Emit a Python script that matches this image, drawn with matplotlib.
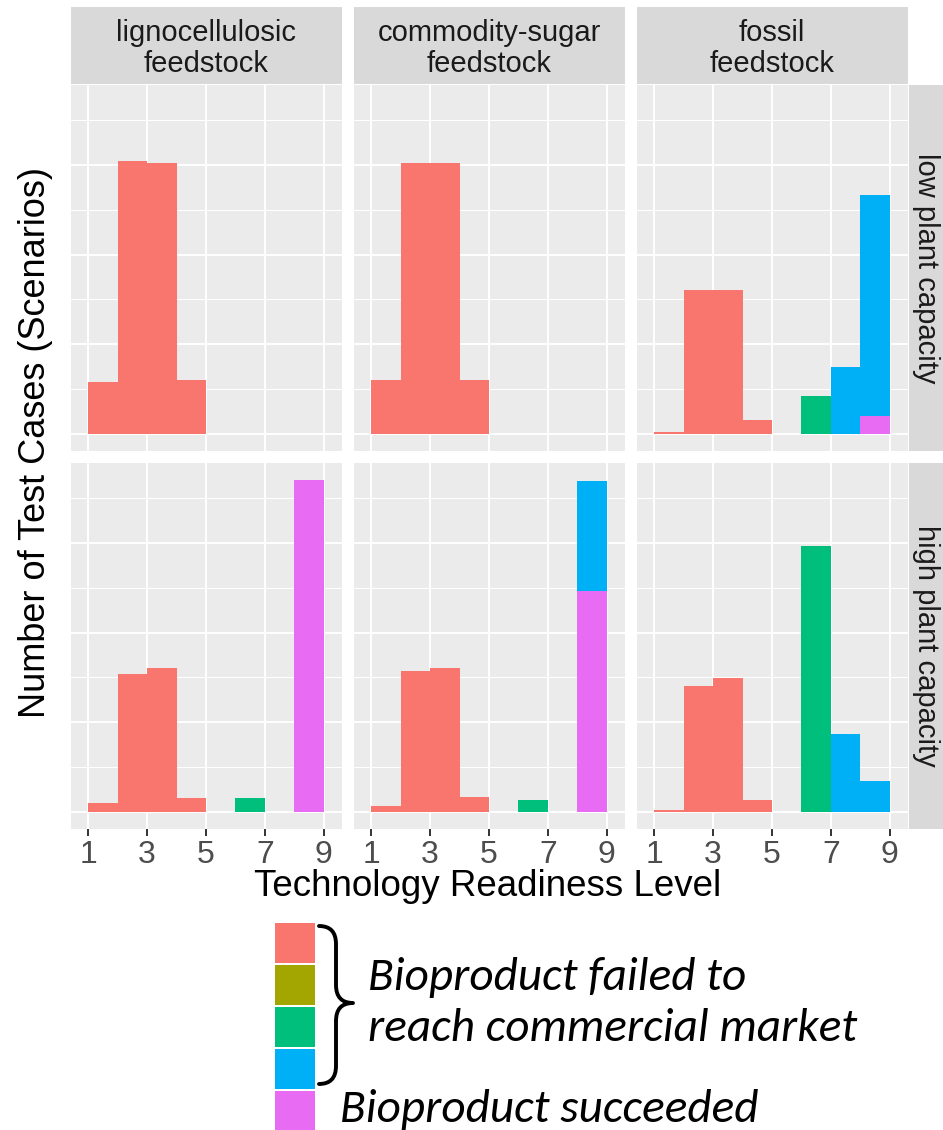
import numpy as np
import matplotlib
matplotlib.use("Agg")
import matplotlib.pyplot as plt
from matplotlib import font_manager
from matplotlib.patches import Rectangle, PathPatch
from matplotlib.path import Path

W, H = 943, 1130

# ---- data (counts of scenarios per TRL bin) ----
feedstocks = ["lignocellulosic\nfeedstock", "commodity-sugar\nfeedstock", "fossil\nfeedstock"]
capacities = ["low plant capacity", "high plant capacity"]
trl_edges = np.arange(1, 10)          # bins [1,2), [2,3), ..., [8,9]
trl_ticks = [1, 3, 5, 7, 9]
outcome_colors = ["#F8766D", "#A3A500", "#00BF7D", "#00B0F6", "#E76BF3"]

zero = [0, 0, 0, 0, 0, 0, 0, 0]

# low plant capacity
ligno_low_red = [58, 304, 302, 60, 0, 0, 0, 0]
sugar_low_red = [60, 302, 302, 60, 0, 0, 0, 0]
fossil_low_red = [3, 160, 161, 16, 0, 0, 0, 0]
fossil_low_green = [0, 0, 0, 0, 0, 43, 0, 0]
fossil_low_blue = [0, 0, 0, 0, 0, 0, 75, 246]
fossil_low_pink = [0, 0, 0, 0, 0, 0, 0, 20]

# high plant capacity
ligno_high_red = [10, 154, 160, 16, 0, 0, 0, 0]
ligno_high_green = [0, 0, 0, 0, 0, 16, 0, 0]
ligno_high_pink = [0, 0, 0, 0, 0, 0, 0, 370]
sugar_high_red = [7, 157, 161, 17, 0, 0, 0, 0]
sugar_high_green = [0, 0, 0, 0, 0, 14, 0, 0]
sugar_high_blue = [0, 0, 0, 0, 0, 0, 0, 123]
sugar_high_pink = [0, 0, 0, 0, 0, 0, 0, 246]
fossil_high_red = [3, 140, 149, 14, 0, 0, 0, 0]
fossil_high_green = [0, 0, 0, 0, 0, 296, 0, 0]
fossil_high_blue = [0, 0, 0, 0, 0, 0, 87, 35]

# panels[row][col] -> series per outcome (red, olive, green, blue, pink)
panels = [
    [[ligno_low_red, zero, zero, zero, zero],
     [sugar_low_red, zero, zero, zero, zero],
     [fossil_low_red, zero, fossil_low_green, fossil_low_blue, fossil_low_pink]],
    [[ligno_high_red, zero, ligno_high_green, zero, ligno_high_pink],
     [sugar_high_red, zero, sugar_high_green, sugar_high_blue, sugar_high_pink],
     [fossil_high_red, zero, fossil_high_green, fossil_high_blue, zero]],
]

# ---- fonts ----
names = {f.name for f in font_manager.fontManager.ttflist}
sans = "Liberation Sans Narrow" if "Liberation Sans Narrow" in names else "Liberation Sans"
legend_font = next((f for f in ["Carlito", "Lato", "Open Sans"] if f in names), "DejaVu Sans")
plt.rcParams["font.family"] = [sans, "DejaVu Sans"]


def px_box(x0, y0, x1, y1):
    return [x0 / W, 1 - y1 / H, (x1 - x0) / W, (y1 - y0) / H]


cols = [(70.5, 341.5), (353.5, 624.5), (636.5, 907.5)]
rows = [(85, 451), (463, 829)]

fig = plt.figure(figsize=(W / 100, H / 100), dpi=100)

totals = [np.sum(np.array(p), axis=0).max() for r in panels for p in r]
ymax = max(totals)
ylim = (-0.05 * ymax, 1.05 * ymax)
centers = trl_edges[:-1] + 0.5

for i, (r0, r1) in enumerate(rows):
    for j, (c0, c1) in enumerate(cols):
        ax = fig.add_axes(px_box(c0, r0, c1, r1))
        ax.set_facecolor("#EBEBEB")
        for s in ax.spines.values():
            s.set_visible(False)
        ax.set_xlim(0.4, 9.6)
        ax.set_ylim(*ylim)
        ax.set_yticks([0, 100, 200, 300])
        ax.set_yticks([50, 150, 250, 350], minor=True)
        ax.set_xticks(trl_ticks)
        ax.grid(True, which="major", color="white", linewidth=1.4)
        ax.grid(True, which="minor", axis="y", color="white", linewidth=0.75)
        ax.set_axisbelow(True)
        ax.tick_params(axis="y", which="both", length=0, labelleft=False)
        if i == len(rows) - 1:
            ax.tick_params(axis="x", length=5, width=1.4, color="#333333",
                           labelsize=23, labelcolor="#4D4D4D", pad=3)
        else:
            ax.tick_params(axis="x", length=0, labelbottom=False)

        # stacked histogram: later outcomes sit at the bottom
        bottom = np.zeros(len(centers))
        for k in range(len(outcome_colors) - 1, -1, -1):
            vals = np.array(panels[i][j][k], dtype=float)
            ax.bar(centers, vals, width=1.0, bottom=bottom,
                   color=outcome_colors[k], linewidth=0)
            bottom += vals

        # top strips
        if i == 0:
            sax = fig.add_axes(px_box(c0, 7, c1, 84))
            sax.set_facecolor("#D9D9D9")
            sax.set_xticks([]); sax.set_yticks([])
            for s in sax.spines.values():
                s.set_visible(False)
            sax.text(0.5, 0.46, feedstocks[j], ha="center", va="center",
                     fontsize=21, color="#1A1A1A", linespacing=1.15,
                     transform=sax.transAxes)
    # right strip
    rax = fig.add_axes(px_box(908.5, r0, 943, r1))
    rax.set_facecolor("#D9D9D9")
    rax.set_xticks([]); rax.set_yticks([])
    for s in rax.spines.values():
        s.set_visible(False)
    rax.text(0.5, 0.5, capacities[i], ha="center", va="center", rotation=-90,
             fontsize=21, color="#1A1A1A", transform=rax.transAxes)

# axis titles
fig.text(488 / W, 1 - 887 / H, "Technology Readiness Level", ha="center", va="center",
         fontsize=26.5, color="black")
fig.text(36 / W, 1 - 442 / H, "Number of Test Cases (Scenarios)", ha="center", va="center",
         rotation=90, fontsize=26, color="black")

# ---- hand-made legend at the bottom ----
lax = fig.add_axes([0, 0, 1, 1], zorder=5)
lax.set_xlim(0, W)
lax.set_ylim(H, 0)
lax.axis("off")
lax.patch.set_alpha(0)

sq_top, sq_h, sq_gap = 923, 39.5, 2.5
for k, c in enumerate(outcome_colors):
    y = sq_top + k * (sq_h + sq_gap)
    lax.add_patch(Rectangle((275, y), 40, sq_h, facecolor=c, edgecolor="none"))

# curly brace
x0, x1 = 319, 353
xm = 336
top, bot = 926, 1084
mid = 1003
r = 18
codes = [Path.MOVETO, Path.CURVE3, Path.CURVE3,
         Path.LINETO,
         Path.CURVE3, Path.CURVE3,
         Path.CURVE3, Path.CURVE3,
         Path.LINETO,
         Path.CURVE3, Path.CURVE3]
verts = [(x0, top), (xm, top), (xm, top + r),
         (xm, mid - r),
         (xm, mid), (x1, mid),
         (xm, mid), (xm, mid + r),
         (xm, bot - r),
         (xm, bot), (x0, bot)]
lax.add_patch(PathPatch(Path(verts, codes), facecolor="none", edgecolor="black",
                        linewidth=2.8, capstyle="round", joinstyle="round"))

lax.text(368, 1003, "Bioproduct failed to\nreach commercial market", ha="left",
         va="center", fontsize=34, style="italic", family=legend_font,
         linespacing=1.3, color="black")
lax.text(340, 1110, "Bioproduct succeeded", ha="left", va="center", fontsize=34,
         style="italic", family=legend_font, color="black")

fig.savefig("out.png", dpi=100, facecolor="white")
